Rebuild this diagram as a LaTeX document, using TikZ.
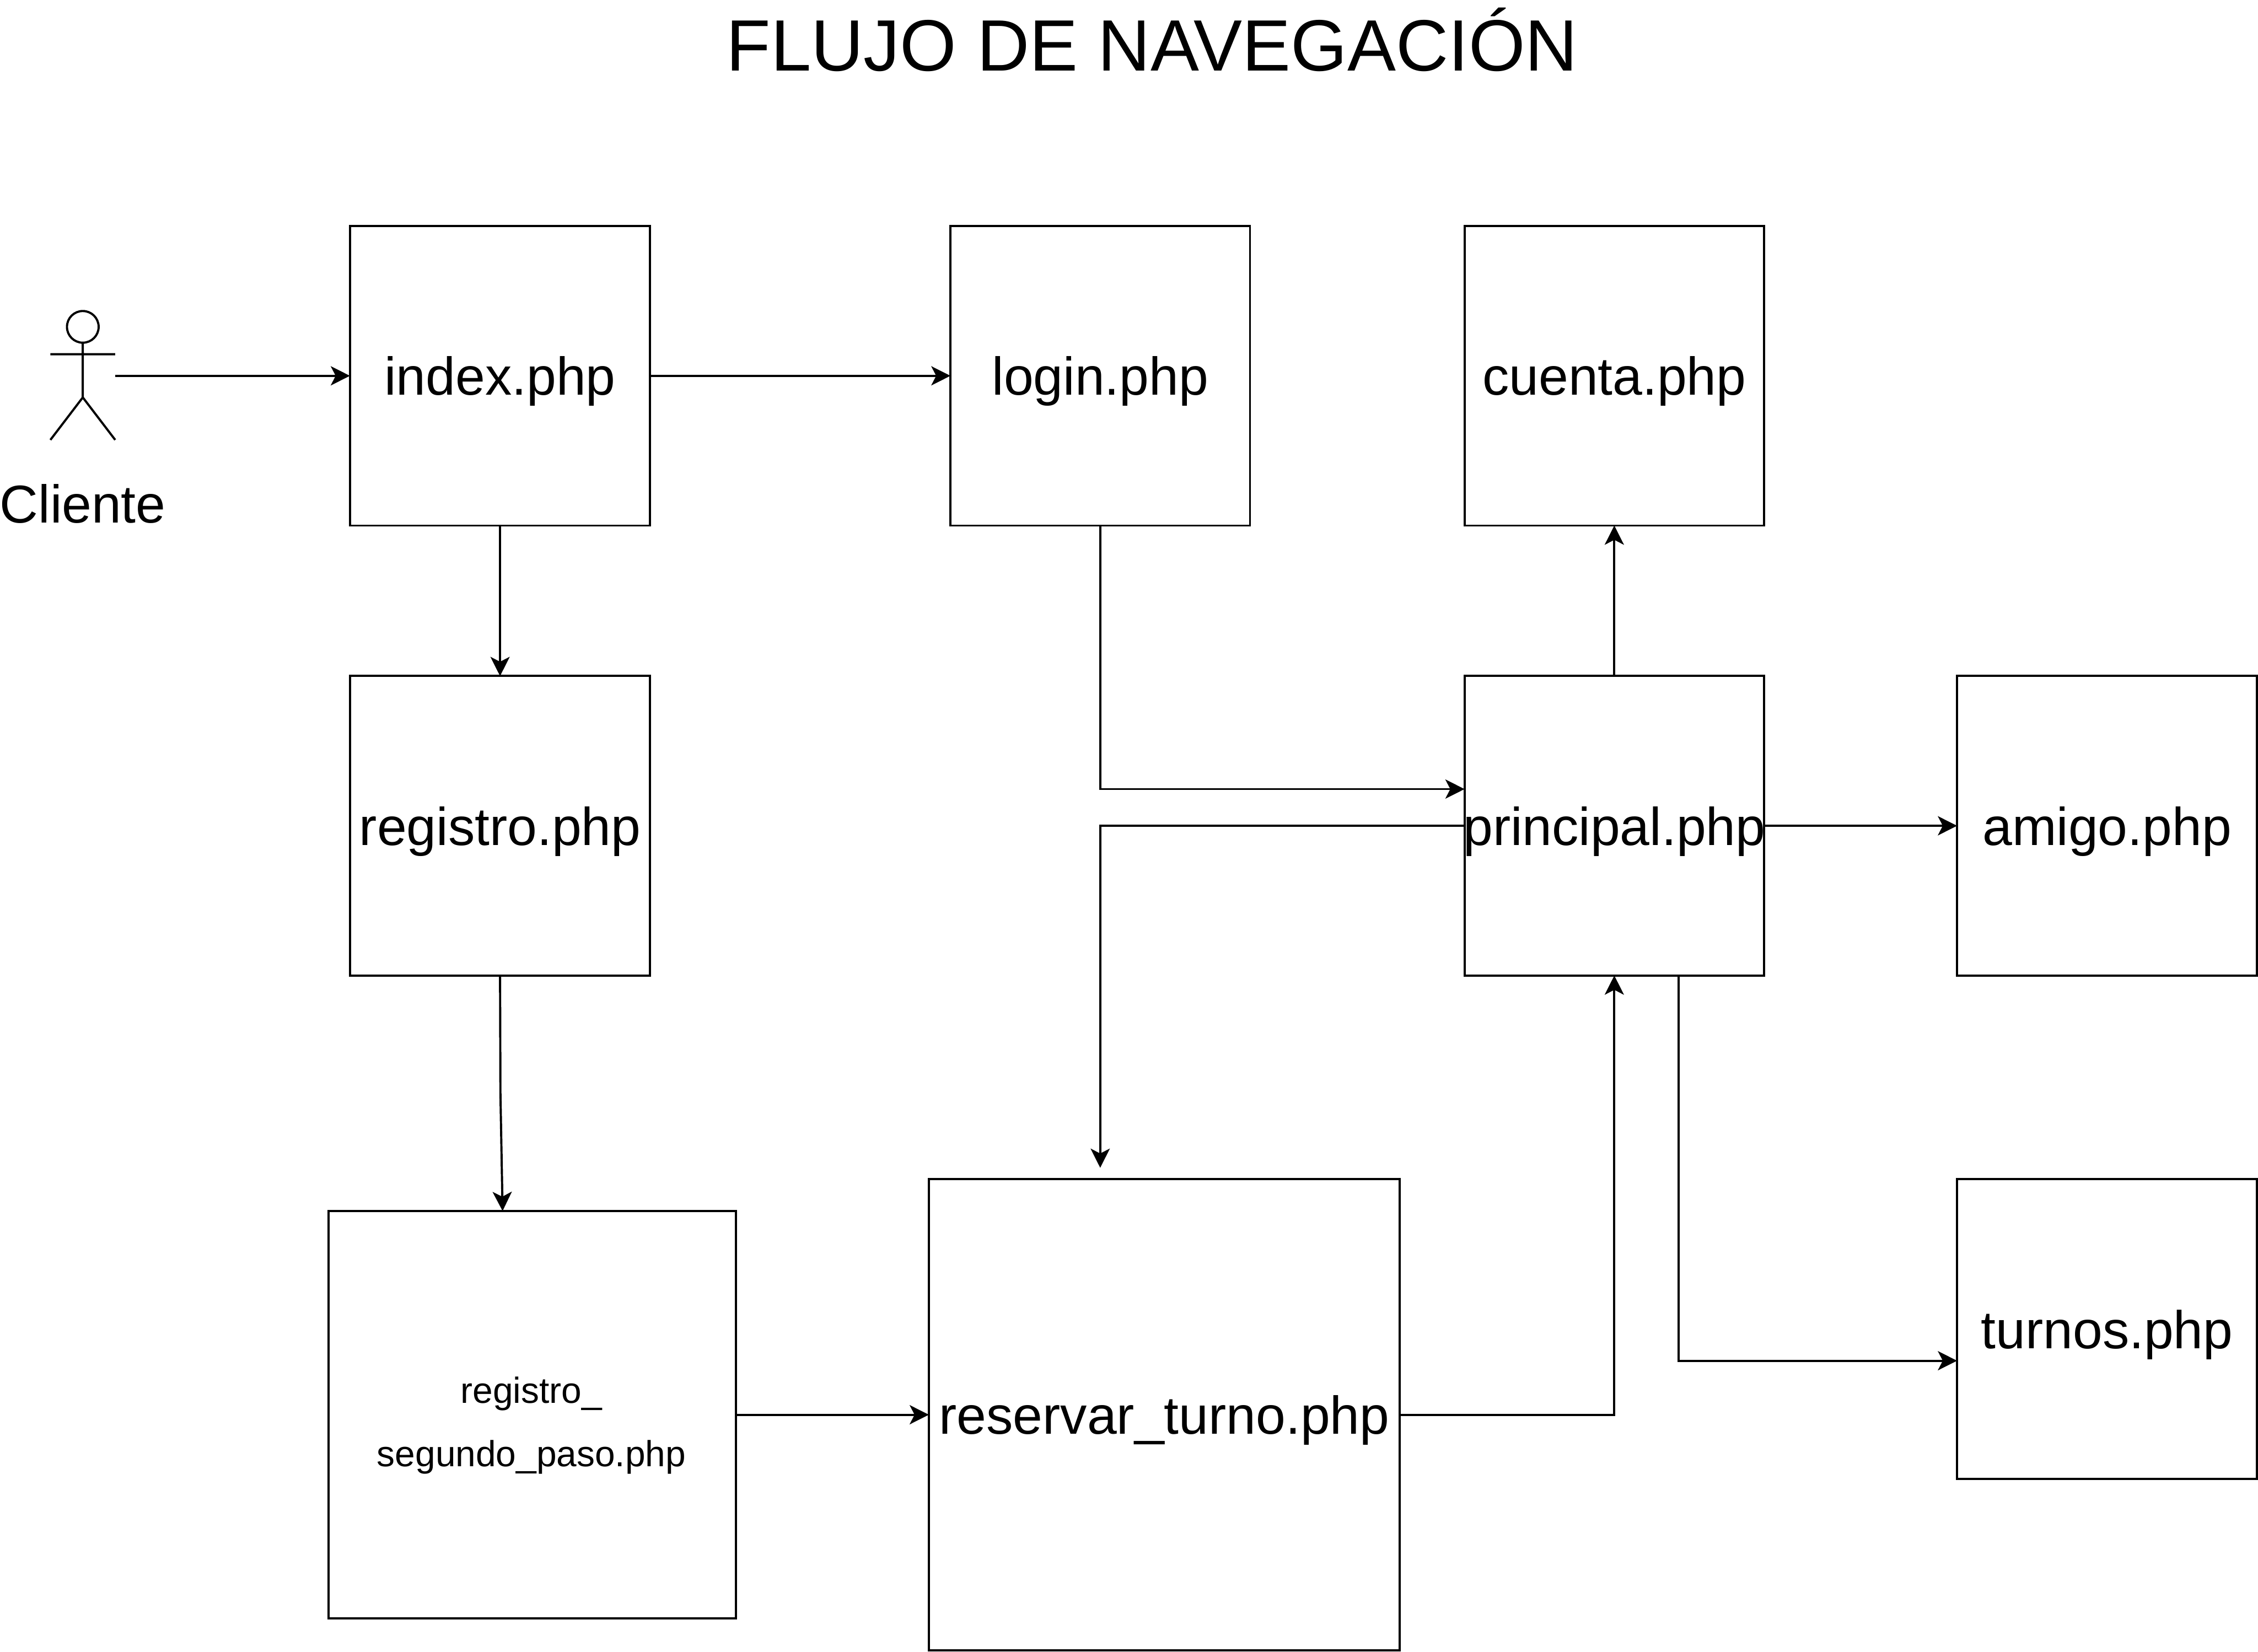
\documentclass[tikz,border=0pt]{standalone}
\usepackage{fontspec}
\setmainfont{Liberation Sans}
\usetikzlibrary{arrows.meta}
\tikzset{
  x=1pt,y=-1pt,
  page/.style={draw=black,line width=1.5pt,fill=white,inner sep=0pt,outer sep=0pt,text depth=0pt,align=center,font=\fontsize{37}{37}\selectfont},
  link/.style={draw=black,line width=1.5pt,-{Stealth[length=13.3pt,width=13.3pt,inset=3.4pt]}},
  lbl/.style={inner sep=0pt,align=center,font=\fontsize{37}{37}\selectfont},
  actor/.style={draw=black,line width=1.5pt}
}
\newcommand{\pg}[6]{\node[page,minimum width=#4pt-#2pt,minimum height=#5pt-#3pt] (#1) at ({(#2+#4)/2},{(#3+#5)/2}) {\makebox[0pt][c]{#6}};}
\begin{document}
\begin{tikzpicture}
\useasboundingbox[fill=white] (0,0) rectangle (1568,1147);
\node[inner sep=0pt,font=\fontsize{50.5}{50.5}\selectfont] (title) at (800,27.5) {FLUJO DE NAVEGACIÓN};
\pg{index}{243}{157}{451.5}{365}{index.php}
\pg{login}{660}{157}{868}{365}{login.php}
\pg{cuenta}{1017}{157}{1225}{365}{cuenta.php}
\pg{registro}{243}{469.5}{451.5}{677.5}{registro.php}
\pg{principal}{1017}{469.5}{1225}{677.5}{principal.php}
\pg{amigo}{1359}{469.5}{1567.3}{677.5}{amigo.php}
\pg{segundo}{228}{841}{511}{1124}{}
\node[inner sep=0pt,align=center,font=\fontsize{25.2}{44}\selectfont] (segtxt) at (369,990) {registro\_\\segundo\_paso.php};
\pg{reservar}{645}{819}{972}{1146}{reservar\_turno.php}
\pg{turnos}{1359}{819}{1567.3}{1027}{turnos.php}
% actor
\draw[actor] (57.5,227) circle (11);
\draw[actor] (57.5,238) -- (57.5,276) (35,246) -- (80,246) (35,305.5) -- (57.5,276) -- (80,305.5);
\coordinate (actorout) at (80,261);
\node[lbl] (cliente) at (57.5,350) {Cliente};
% connectors
\draw[link] (actorout) -- (index.west |- actorout);
\draw[link] (index.east |- 0,261) -- (login.west |- 0,261);
\draw[link] (index.south) -- (registro.north);
\draw[link] (registro.south) -- (347.5,759) -- (349,841);
\draw[link] (login.south) |- (principal.west |- 0,548);
\draw[link] (principal.west) -- (764,573.5) -- (764,811);
\draw[link] (principal.north) -- (cuenta.south);
\draw[link] (principal.east) -- (amigo.west);
\draw[link] (1165.5,677.5) |- (turnos.west |- 0,945);
\draw[link] (segundo.east |- 0,982.5) -- (reservar.west);
\draw[link] (reservar.east) -| (principal.south);
\end{tikzpicture}
\end{document}
